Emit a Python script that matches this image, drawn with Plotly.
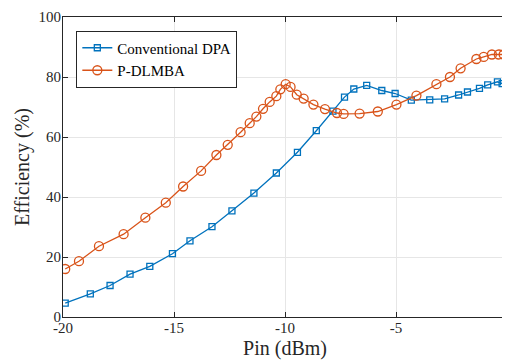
import plotly.graph_objects as go

conv_x = [-19.9, -18.77, -17.88, -16.98, -16.09, -15.07, -14.28, -13.29, -12.39, -11.40,
          -10.39, -9.44, -8.59, -7.84, -7.32, -6.90, -6.32, -5.64, -5.04, -4.31,
          -3.48, -2.81, -2.18, -1.78, -1.24, -0.87, -0.43, -0.22]
conv_y = [4.6, 7.7, 10.5, 14.3, 16.9, 21.1, 25.4, 30.1, 35.4, 41.3,
          48.0, 54.9, 62.1, 68.6, 73.3, 76.0, 77.2, 75.5, 74.5, 72.3,
          72.4, 72.7, 74.0, 75.0, 76.2, 77.4, 78.4, 77.8]

pd_x = [-19.9, -19.28, -18.38, -17.27, -16.29, -15.37, -14.59, -13.78, -13.09, -12.58,
        -12.0, -11.59, -11.29, -10.99, -10.69, -10.39, -10.21, -9.97, -9.75, -9.47,
        -9.16, -8.72, -8.20, -7.66, -7.36, -6.64, -5.82, -4.98, -4.08, -3.18,
        -2.57, -2.09, -1.38, -1.05, -0.68, -0.37, -0.15]
pd_y = [16.0, 18.6, 23.6, 27.6, 33.1, 38.1, 43.5, 48.7, 54.0, 57.4,
        61.6, 64.6, 66.8, 69.4, 71.7, 73.6, 75.9, 77.6, 76.7, 74.1,
        72.8, 70.8, 69.3, 68.0, 67.7, 67.8, 68.5, 70.8, 73.8, 77.6,
        80.0, 82.9, 86.0, 86.7, 87.5, 87.5, 87.5]

x_ticks = [-20, -15, -10, -5, 0]
x_tick_text = ["-20", "-15", "-10", "-5", "0"]
y_ticks = [0, 20, 40, 60, 80, 100]
y_tick_text = ["0", "20", "40", "60", "80", "100"]

blue = "#0072BD"
orange = "#D95319"
font = "Liberation Serif, Times New Roman, serif"

fig = go.Figure()
fig.add_trace(go.Scatter(
    x=conv_x, y=conv_y, mode="lines+markers", name="Conventional DPA",
    line=dict(color=blue, width=1.3),
    marker=dict(symbol="square-open", size=6, color=blue, line=dict(width=1.3, color=blue)),
))
fig.add_trace(go.Scatter(
    x=pd_x, y=pd_y, mode="lines+markers", name="P-DLMBA",
    line=dict(color=orange, width=1.3),
    marker=dict(symbol="circle-open", size=9, color=orange, line=dict(width=1.3, color=orange)),
))

axis_common = dict(
    showline=True, linecolor="#262626", linewidth=1, mirror="ticks",
    ticks="inside", ticklen=5, tickcolor="#262626",
    showgrid=True, gridcolor="#E6E6E6", gridwidth=1, zeroline=False,
    automargin=False,
    tickfont=dict(family=font, size=15, color="#262626"),
    title_font=dict(family=font, size=20, color="#262626"),
)

fig.update_xaxes(range=[-20, 0], tickvals=x_ticks, ticktext=x_tick_text,
                 title_text="Pin (dBm)", title_standoff=5, ticklabelstandoff=-3,
                 **axis_common)
fig.update_yaxes(range=[0, 100], tickvals=y_ticks, ticktext=y_tick_text,
                 title_text="Efficiency (%)", title_standoff=3, ticklabelstandoff=-2,
                 **axis_common)

# page body has an 8px default margin, so the figure is offset by 8px
fig.update_layout(
    width=502, height=353,
    margin=dict(l=55, r=3, t=9, b=44),
    paper_bgcolor="white", plot_bgcolor="white",
    showlegend=True,
    legend=dict(
        x=0.03, y=0.955, xanchor="left", yanchor="top",
        bgcolor="white", bordercolor="#262626", borderwidth=1,
        font=dict(family=font, size=15, color="black"),
        itemwidth=30, tracegroupgap=0,
    ),
)

fig.write_html("out.html")
